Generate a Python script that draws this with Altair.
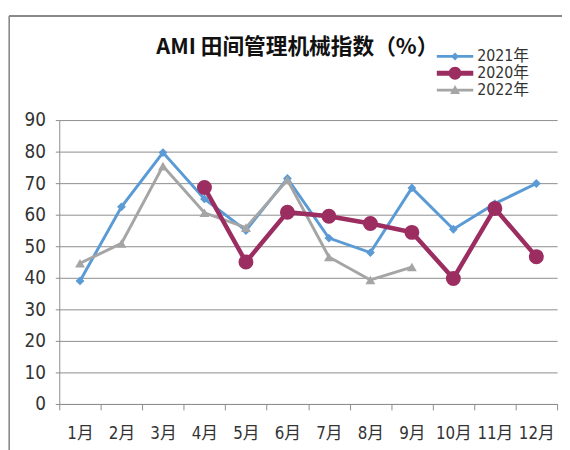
import altair as alt
import pandas as pd

months = ["1月", "2月", "3月", "4月", "5月", "6月", "7月", "8月", "9月", "10月", "11月", "12月"]
series_names = ["2021年", "2020年", "2022年"]
v2021 = [39, 62.5, 79.7, 65, 55, 71.5, 52.6, 48, 68.5, 55.4, 63.5, 69.9]
v2020 = [None, None, None, 68.6, 45, 60.8, 59.5, 57.2, 54.4, 39.8, 62, 46.7]
v2022 = [44.6, 50.9, 75.4, 60.6, 55.9, 71, 46.6, 39.3, 43.4, None, None, None]

colors = ["#5B9BD5", "#9B2D61", "#A5A5A5"]

rows = []
for name, vals in zip(series_names, [v2021, v2020, v2022]):
    for m, v in zip(months, vals):
        if v is not None:
            rows.append({"month": m, "series": name, "value": v})
df = pd.DataFrame(rows)

FONT = "Liberation Sans Narrow, DejaVu Sans Condensed, Noto Sans CJK SC"
GRID = "#8C8C8C"

x_enc = alt.X(
    "month:N", sort=months,
    scale=alt.Scale(type="band", paddingInner=0, paddingOuter=0),
    axis=alt.Axis(title=None, labelAngle=0, tickBand="extent", grid=False,
                  labelFont=FONT, labelFontSize=17, labelColor="#333333",
                  labelPadding=16, tickSize=6, tickColor=GRID, domainColor=GRID),
)
y_enc = alt.Y(
    "value:Q", scale=alt.Scale(domain=[0, 90], nice=False),
    axis=alt.Axis(title=None, values=list(range(0, 91, 10)), grid=True, gridColor=GRID,
                  labelFont=FONT, labelFontSize=19, labelColor="#333333",
                  labelPadding=10, tickSize=4, tickColor=GRID, domainColor=GRID),
)

base = alt.Chart(df)

frame = alt.Chart(df).mark_rect(fill=None, stroke="#8A8A8A", strokeWidth=1).encode(
    x=alt.value(-50.5), x2=alt.value(620), y=alt.value(-105.5), y2=alt.value(360)
)

# legend symbols: line segment + marker, unit = 5px (symbol size 100)
legend_paths = [
    "M-3.7,-0.28H3.7V0.28H-3.7Z M0,-0.8L0.8,0L0,0.8L-0.8,0Z",
    "M-3.7,-0.5H3.7V0.5H-3.7Z M1.3,0A1.3,1.3,0,1,1,-1.3,0A1.3,1.3,0,1,1,1.3,0Z",
    "M-3.7,-0.28H3.7V0.28H-3.7Z M0,-1L1,0.8L-1,0.8Z",
]

legend_layer = base.transform_filter(alt.datum.value < -1000).mark_point(
    filled=True, opacity=1, size=100).encode(
    x=x_enc, y=y_enc,
    color=alt.Color("series:N", scale=alt.Scale(domain=series_names, range=colors),
                    legend=alt.Legend(title=None, orient="none", legendX=393.5, legendY=-72.5,
                                      labelFont=FONT, labelFontSize=16, labelColor="#333333",
                                      symbolOpacity=1, symbolSize=100, symbolStrokeWidth=0,
                                      rowPadding=1, labelOffset=14.5, padding=0)),
    shape=alt.Shape("series:N", scale=alt.Scale(domain=series_names, range=legend_paths)),
)

specs = {
    "2021年": dict(color=colors[0], width=3, shape="diamond", size=80),
    "2022年": dict(color=colors[2], width=3, shape="triangle-up", size=100),
    "2020年": dict(color=colors[1], width=4.5, shape="circle", size=230),
}

layers = [frame, legend_layer]
for name in ["2021年", "2022年", "2020年"]:
    s = specs[name]
    sub = base.transform_filter(alt.datum.series == name)
    layers.append(sub.mark_line(color=s["color"], strokeWidth=s["width"]).encode(x=x_enc, y=y_enc))
    layers.append(sub.mark_point(filled=True, opacity=1, color=s["color"], shape=s["shape"],
                                 size=s["size"]).encode(x=x_enc, y=y_enc))

chart = alt.layer(*layers).properties(
    width=505, height=288,
    autosize=alt.AutoSizeParams(type="none"),
    padding={"left": 52, "top": 110.5, "right": 5, "bottom": 43.5},
    title=alt.TitleParams("AMI 田间管理机械指数（%）", font="Noto Sans CJK SC", fontSize=22,
                          fontWeight="bold", color="#111111", anchor="middle", dx=-11,
                          offset=0, dy=61, baseline="alphabetic", frame="group"),
).configure_view(stroke=None)

chart.save("out.html", embed_options={"renderer": "svg", "actions": False})
